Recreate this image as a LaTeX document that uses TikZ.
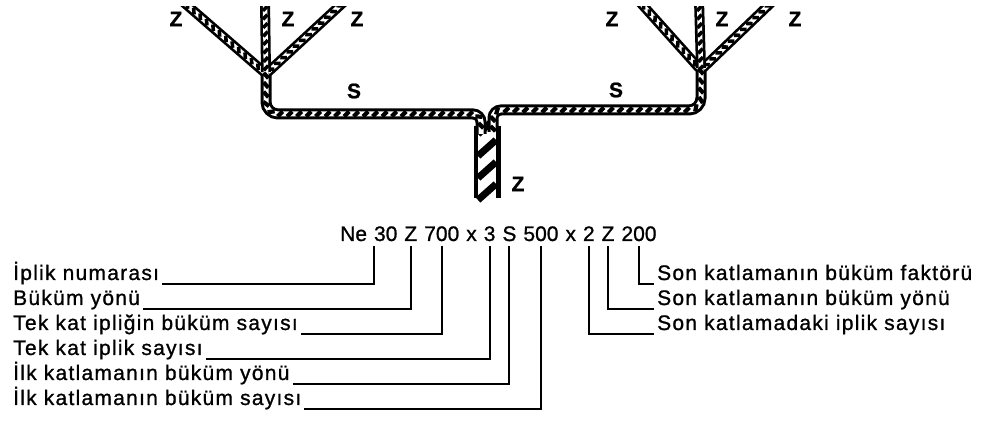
\documentclass[tikz,border=0pt]{standalone}
\usepackage{fontspec}
\setmainfont{Liberation Sans}[FakeBold=1]
\newfontfamily\labelfont{Liberation Sans}[LetterSpace=6,FakeBold=1]
\usetikzlibrary{positioning,decorations.markings}
\tikzset{>=latex}

% strands: black outline, white core, slanted hatch for the twist
\tikzset{
	zsingle/.style={preaction={draw,black,line width=10pt},draw=white,line width=4.6pt,
		postaction={decorate,decoration={markings,mark=between positions 0 and 1 step 8.5pt with {\draw[black,line width=3.6pt] (-2.3pt,2.3pt) -- (2.3pt,-2.3pt);}}}},
	sply/.style={preaction={draw,black,line width=11pt},draw=white,line width=5pt,
		postaction={decorate,decoration={markings,mark=between positions 0 and 1 step 9.5pt with {\draw[black,line width=4.2pt] (-2.6pt,-2.5pt) -- (2.6pt,2.5pt);}}}},
	zcable/.style={preaction={draw,black,line width=27pt},draw=white,line width=18pt,
		postaction={decorate,decoration={markings,mark=between positions 0 and 1 step 22pt with {\draw[black,line width=7pt] (-8pt,9pt) -- (8pt,-9pt);}}}},
	twist/.style={font=\fontsize{21}{25}\selectfont\bfseries,inner sep=0pt},
	tok/.style={font=\fontsize{21}{25}\selectfont,inner sep=0pt},
	lbl/.style={font=\fontsize{21}{25}\selectfont\labelfont,inner sep=0pt,anchor=base west},
	lead/.style={line width=2pt},
}

\begin{document}
\begin{tikzpicture}[x=1pt,y=-1pt]
	\useasboundingbox (0,0) rectangle (989,427);
	\coordinate (j1) at (266,72);
	\coordinate (j2) at (701,68);
	% the yarn: cable, two plies, three singles each
	\begin{scope}
		\clip (0,7) rectangle (989,427);
		\draw[zcable] (487,126) -- (487,198);
		\draw[sply,rounded corners=12pt] ([yshift=6pt]j2) -- (701,110) -- (600,110) [rounded corners=8pt] -- (493,110) -- (493,132);
		\draw[sply,rounded corners=12pt] ([yshift=6pt]j1) -- (266,114) -- (380,114) [rounded corners=8pt] -- (481,114) -- (481,134);
		\draw[zsingle] (181,0) -- ([xshift=-2pt]j1);
		\draw[zsingle] (346,0) -- ([xshift=2pt]j1);
		\draw[zsingle] (265,0) -- (j1);
		\draw[zsingle] (638,0) -- ([xshift=-2pt]j2);
		\draw[zsingle] (774,0) -- ([xshift=2pt]j2);
		\draw[zsingle] (699,0) -- (j2);
	\end{scope}
	\node[twist] (zl1) at (176,19) {Z};
	\node[twist] (zl2) at (288,19) {Z};
	\node[twist] (zl3) at (357,19) {Z};
	\node[twist] (zr1) at (612,19) {Z};
	\node[twist] (zr2) at (722,19) {Z};
	\node[twist] (zr3) at (795,19) {Z};
	\node[twist] (sl) at (354,91) {S};
	\node[twist] (sr) at (616,90) {S};
	\node[twist] (zc) at (518,184) {Z};

	% the yarn code
	\node[tok,anchor=base west] (ne) at (340,241) {Ne};
	\node[tok,base right=6.6pt of ne] (n30) {30};
	\node[tok,base right=6.6pt of n30] (z1) {Z};
	\node[tok,base right=6.6pt of z1] (n700) {700};
	\node[tok,base right=6.6pt of n700] (x1) {x};
	\node[tok,base right=6.6pt of x1] (n3) {3};
	\node[tok,base right=6.6pt of n3] (s1) {S};
	\node[tok,base right=6.6pt of s1] (n500) {500};
	\node[tok,base right=6.6pt of n500] (x2) {x};
	\node[tok,base right=6.6pt of x2] (n2) {2};
	\node[tok,base right=6.6pt of n2] (z2) {Z};
	\node[tok,base right=6.6pt of z2] (n200) {200};

	\foreach \txt/\tok [count=\i] in {İplik numarası/n30.south west, Büküm yönü/z1.south, Tek kat ipliğin büküm sayısı/n700.south, Tek kat iplik sayısı/n3.south, İlk katlamanın büküm yönü/s1.south, İlk katlamanın büküm sayısı/n500.south}
	{
		\node[lbl] (l\i) at (13,255+25*\i) {\txt};
		\draw[lead,shorten >=5pt] ([shift={(3pt,-4pt)}]l\i.base east) -| (\tok);
	}
	\foreach \txt/\tok [count=\i] in {Son katlamanın büküm faktörü/n200.south, Son katlamanın büküm yönü/z2.south, Son katlamadaki iplik sayısı/n2.south}
	{
		\node[lbl] (r\i) at (657,255+25*\i) {\txt};
		\draw[lead,shorten <=5pt] (\tok) |- ([shift={(-3pt,-4pt)}]r\i.base west);
	}
\end{tikzpicture}
\end{document}
